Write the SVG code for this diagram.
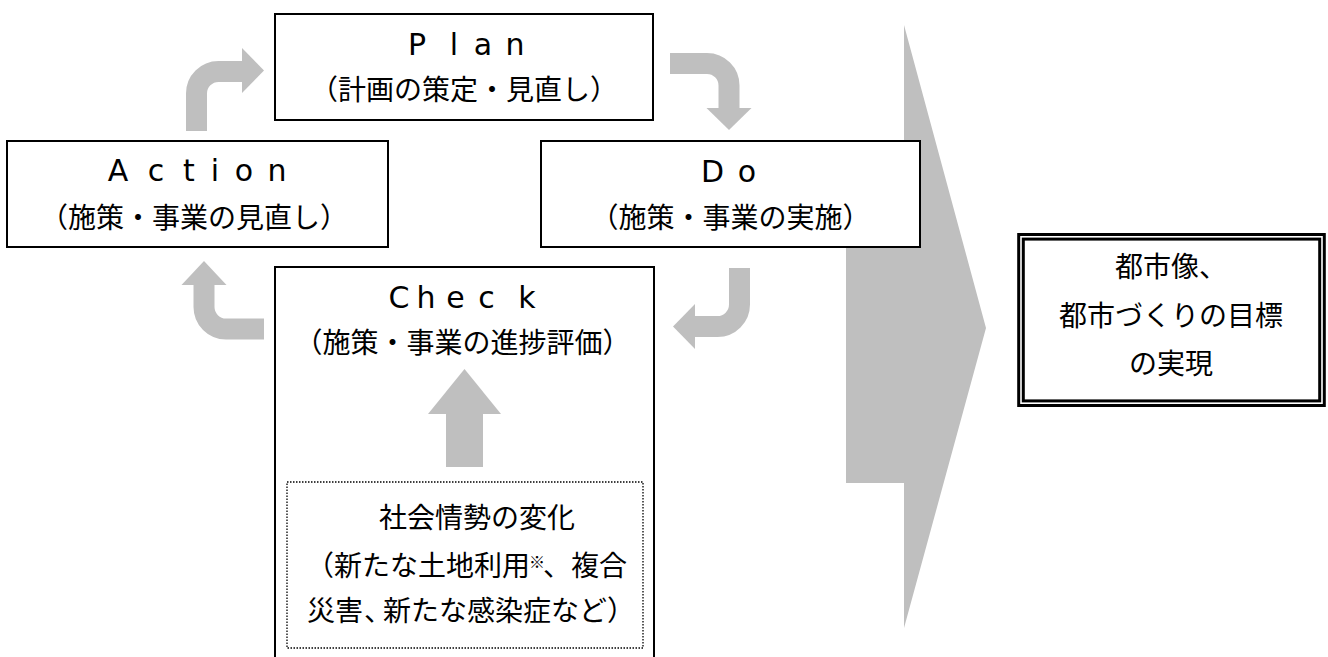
<svg xmlns="http://www.w3.org/2000/svg" width="1328" height="657" viewBox="0 0 1328 657">
<style>
.box{fill:#fff;stroke:#000;stroke-width:2}
.ttl{font-family:"DejaVu Sans",sans-serif;font-size:30px;fill:#000;text-anchor:middle}
.jp{font-family:"Noto Sans CJK JP",sans-serif;font-size:28px;fill:#000}
.mid{text-anchor:middle}
.halt{font-feature-settings:"halt"}
.shaft{fill:none;stroke:#bfbfbf;stroke-width:21}
.head{fill:#bfbfbf}
</style>
<rect width="1328" height="657" fill="#fff"/>
<g id="goal-arrow">
<polygon class="head" points="904,25 986,328 904,628 904,483 846,483 846,150 904,150"/>
</g>
<g id="plan">
<rect class="box" x="275" y="14" width="378" height="106"/>
<text class="ttl" x="417 454 483 515" y="55">Plan</text>
<text class="jp mid" x="464" y="100">（計画の策定・見直し）</text>
</g>
<g id="action">
<rect class="box" x="7" y="141" width="381" height="106"/>
<text class="ttl" x="118 156 189 215 244 277" y="181">Action</text>
<text class="jp mid" x="194" y="228">（施策・事業の見直し）</text>
</g>
<g id="do">
<rect class="box" x="541" y="141" width="379" height="106"/>
<text class="ttl" x="712.5 747" y="182">Do</text>
<text class="jp mid" x="730.5" y="228">（施策・事業の実施）</text>
</g>
<g id="check">
<rect class="box" x="275" y="267" width="379" height="420"/>
<text class="ttl" x="399 426 455.5 486.5 527" y="308">Check</text>
<text class="jp mid" x="462.5" y="353">（施策・事業の進捗評価）</text>
</g>
<g id="social-change">
<rect x="287" y="482" width="356" height="166" fill="#fff" stroke="#000" stroke-width="1.3" stroke-dasharray="1.5 1.5"/>
<text class="jp" x="379" y="528">社会情勢の変化</text>
<text class="jp" y="576"><tspan x="306">（新たな土地利用</tspan><tspan x="529" dy="-8" font-size="16">※</tspan><tspan x="543" dy="8">、複合</tspan></text>
<text class="jp" y="621"><tspan x="307">災害</tspan><tspan x="364" class="halt">、</tspan><tspan x="383">新たな感染症など）</tspan></text>
</g>
<g id="goal">
<rect x="1018.7" y="234.5" width="305.6" height="171" fill="#fff" stroke="#000" stroke-width="3"/>
<rect x="1023.3" y="239.1" width="296.4" height="161.8" fill="none" stroke="#000" stroke-width="3"/>
<text class="jp mid" x="1171" y="277">都市像、</text>
<text class="jp mid" x="1171" y="326">都市づくりの目標</text>
<text class="jp mid" x="1171" y="374">の実現</text>
</g>
<g id="connectors">
<path class="shaft" d="M196.5,131 V93.5 A22,22 0 0 1 218.5,71.5 H243"/>
<polygon class="head" points="242,48 242,93 264,70.5"/>
<path class="shaft" d="M670,63.5 H707 A22,22 0 0 1 729,85.5 V109"/>
<polygon class="head" points="706.5,108 751.5,108 729,130"/>
<path class="shaft" d="M739.5,268 V304.5 A22,22 0 0 1 717.5,326.5 H694"/>
<polygon class="head" points="695,304 695,349 673,326.5"/>
<path class="shaft" d="M264,329 H226 A22,22 0 0 1 204,307 V284"/>
<polygon class="head" points="181.5,285 226.5,285 204,261"/>
<rect class="head" x="446" y="413" width="37" height="54"/>
<polygon class="head" points="428,414 501,414 464.5,369"/>
</g>
</svg>
